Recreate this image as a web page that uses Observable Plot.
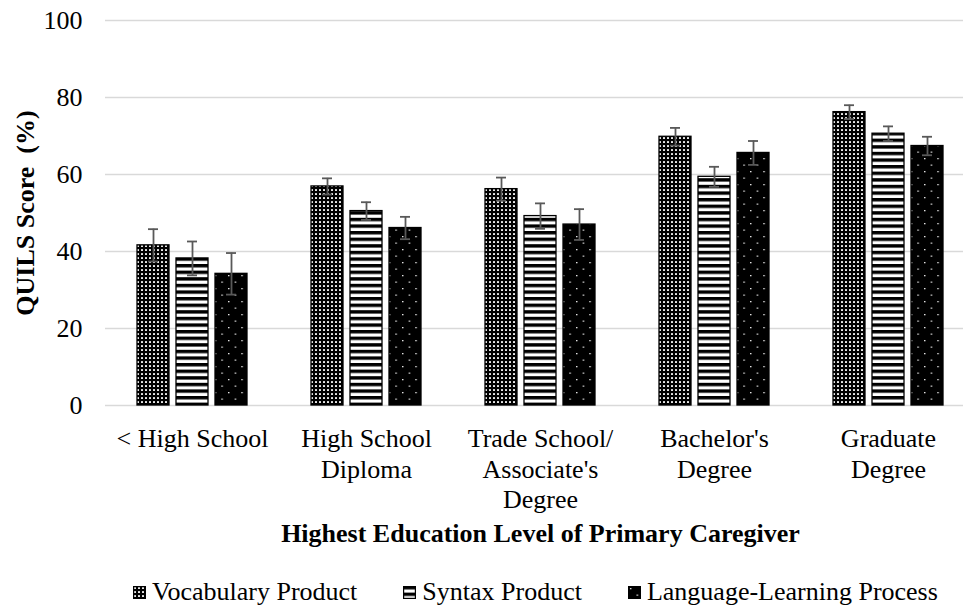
<!DOCTYPE html>
<html><head><meta charset="utf-8">
<script src="https://cdn.jsdelivr.net/npm/d3@7"></script>
<script src="https://cdn.jsdelivr.net/npm/@observablehq/plot@0.6"></script>
<style>
body{margin:0;background:#fff;font-family:"Liberation Serif","Times New Roman",serif;}
#legend{display:flex;justify-content:flex-start;align-items:center;gap:46px;margin-top:22px;padding-left:133px;height:30px;line-height:30px;font-size:26px;color:#000;}
#legend .item{display:flex;align-items:center;gap:6px;white-space:nowrap;}
#legend svg{display:block}
</style></head><body>
<div id="chart"></div>
<div id="legend"></div>
<script>
const categories = ["< High School", "High School Diploma", "Trade School/Associate's Degree", "Bachelor's Degree", "Graduate Degree"];
const categoryLabels = ["< High School", "High School\nDiploma", "Trade School/\nAssociate's\nDegree", "Bachelor's\nDegree", "Graduate\nDegree"];
const series = ["Vocabulary Product", "Syntax Product", "Language-Learning Process"];
const vocabulary = [41.6, 56.9, 56.2, 69.8, 76.2];
const syntax = [38.2, 50.5, 49.2, 59.4, 70.6];
const language = [34.2, 46.1, 47.0, 65.6, 67.4];
const vocabularyErr = [4.2, 2.1, 3.0, 2.3, 1.8];
const syntaxErr = [4.4, 2.3, 3.3, 2.6, 1.9];
const languageErr = [5.4, 2.9, 4.0, 3.1, 2.4];
const yTicks = [0, 20, 40, 60, 80, 100];
const yTitle = "QUILS Score  (%)";
const xTitle = "Highest Education Level of Primary Caregiver";
const patternIds = ["pat-vocab", "pat-syntax", "pat-lang"];

const values = [vocabulary, syntax, language];
const errs = [vocabularyErr, syntaxErr, languageErr];
const rows = [];
categories.forEach((c, i) => series.forEach((s, j) => rows.push({
  category: c, series: s, value: values[j][i], lo: values[j][i] - errs[j][i], hi: values[j][i] + errs[j][i]
})));

const errStyle = {stroke: "#595959", strokeWidth: 1.8};
const chart = Plot.plot({
  width: 963, height: 555,
  marginTop: 20, marginBottom: 150, marginLeft: 105, marginRight: -12,
  style: {fontFamily: "'Liberation Serif', 'Times New Roman', serif", fontSize: "26px", color: "#000", background: "#fff"},
  fx: {domain: categories, padding: 0},
  x: {domain: series, paddingInner: 0.18, paddingOuter: 0.82, axis: null},
  y: {domain: [0, 100]},
  color: {domain: series, range: patternIds.map(id => `url(#${id})`)},
  marks: [
    Plot.gridY(yTicks, {stroke: "#d9d9d9", strokeOpacity: 1, strokeWidth: 1.3}),
    Plot.axisY(yTicks, {tickSize: 0, tickPadding: 23, fontSize: 26, label: null}),
    Plot.axisFx({anchor: "bottom", tickSize: 0, tickPadding: 20, fontSize: 26, lineHeight: 1.17, label: null,
      tickFormat: d => categoryLabels[categories.indexOf(d)]}),
    Plot.barY(rows, {fx: "category", x: "series", y: "value", fill: "series", stroke: "#000", strokeWidth: 1.3}),
    Plot.ruleX(rows, {fx: "category", x: "series", y1: "lo", y2: "hi", ...errStyle}),
    Plot.tickY(rows, {fx: "category", x: "series", y: "hi", insetLeft: 11, insetRight: 11, ...errStyle}),
    Plot.tickY(rows, {fx: "category", x: "series", y: "lo", insetLeft: 11, insetRight: 11, ...errStyle}),
    Plot.text([yTitle], {fx: [categories[0]], frameAnchor: "left", rotate: -90, dx: -80, textAnchor: "middle", lineAnchor: "middle", fontWeight: "bold", fontSize: 26}),
    Plot.text([xTitle], {fx: [categories[2]], frameAnchor: "bottom", dy: 128, textAnchor: "middle", lineAnchor: "middle", fontWeight: "bold", fontSize: 26})
  ]
});

// pattern definitions
const defs = d3.select(chart).insert("defs", ":first-child");
const pv = defs.append("pattern").attr("id", patternIds[0]).attr("patternUnits", "userSpaceOnUse").attr("width", 4).attr("height", 4);
pv.append("rect").attr("width", 4).attr("height", 4).attr("fill", "#000");
pv.append("rect").attr("x", 1).attr("y", 1.2).attr("width", 2).attr("height", 1.7).attr("fill", "#fff");
const ps = defs.append("pattern").attr("id", patternIds[1]).attr("patternUnits", "userSpaceOnUse").attr("width", 10).attr("height", 6.6);
ps.append("rect").attr("width", 10).attr("height", 6.6).attr("fill", "#fff");
ps.append("rect").attr("y", 0).attr("width", 10).attr("height", 3.4).attr("fill", "#000");
const pl = defs.append("pattern").attr("id", patternIds[2]).attr("patternUnits", "userSpaceOnUse").attr("width", 13.3).attr("height", 13);
pl.append("rect").attr("width", 13.3).attr("height", 13).attr("fill", "#000");
pl.append("rect").attr("x", 2).attr("y", 2).attr("width", 1.3).attr("height", 1.3).attr("fill", "#fff");
pl.append("rect").attr("x", 8.65).attr("y", 8.5).attr("width", 1.3).attr("height", 1.3).attr("fill", "#fff");

document.getElementById("chart").appendChild(chart);

// legend
const legend = d3.select("#legend");
series.forEach((s, j) => {
  const item = legend.append("div").attr("class", "item");
  const sw = item.append("svg").attr("width", 13).attr("height", 13);
  sw.append("rect").attr("x", 0.6).attr("y", 0.6).attr("width", 11.8).attr("height", 11.8)
    .attr("fill", `url(#${patternIds[j]})`).attr("stroke", "#000").attr("stroke-width", 1.2);
  item.append("span").text(s);
});
</script>
</body></html>
